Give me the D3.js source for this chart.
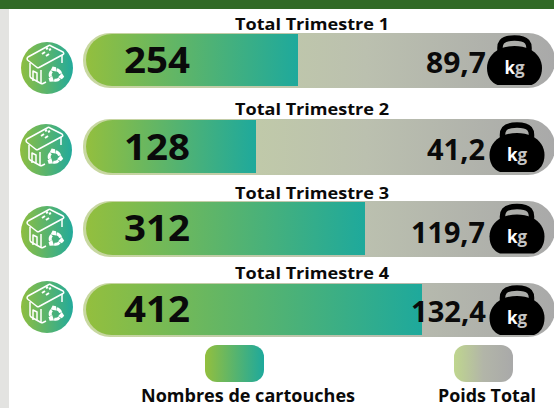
<!DOCTYPE html>
<meta charset="utf-8">
<style>
html, body { margin: 0; padding: 0; background: #fff; overflow: hidden; }
text { font-family: "Open Sans", sans-serif; font-weight: 700; fill: #0a0a0a; }
</style>
<body>
<script src="https://d3js.org/d3.v7.js"></script>
<script>

var width = 554;
var height = 408;

var trimestres = ["Total Trimestre 1", "Total Trimestre 2", "Total Trimestre 3", "Total Trimestre 4"];
var cartouches = [254, 128, 312, 412];
var poids = ["89,7", "41,2", "119,7", "132,4"];
var legendLabels = ["Nombres de cartouches", "Poids Total"];

// the picture's bars are not proportional, so the scale goes through each bar's end
var xScale = d3.scaleLinear()
    .domain([128, 254, 312, 412])
    .range([256, 298, 365, 422]);

// row layout
var rowTop = [33, 119, 201, 283];
var rowH = [55, 56, 56, 54];
var titleY = [-3, -4, -2, -4];
var numY = [40, 40.5, 39.5, 39];
var poidsX = [486, 485, 485, 486];
var poidsY = [40, 41, 42, 39];
var poidsW = [60, 58, 74, 75];
var iconX = [47, 46, 47, 47];
var iconY = [35, 31, 31, 24];
var weightX = [514.5, 517, 517, 517];
var weightY = [27, 28, 27.5, 27];
var trackX = 83;

var svg = d3.select("body").append("svg")
    .attr("width", width)
    .attr("height", height)
    .style("display", "block");

var defs = svg.append("defs");

function gradient(id, stops) {
  var g = defs.append("linearGradient").attr("id", id);
  stops.forEach(function(s) {
    g.append("stop").attr("offset", s[0]).attr("stop-color", s[1]);
  });
}
gradient("fillGrad", [["0%", "#93bf3e"], ["100%", "#1ea99c"]]);
gradient("trackGrad", [["0%", "#c8d8a0"], ["60%", "#bbc0af"], ["100%", "#a9a9a9"]]);
gradient("legendGrad", [["0%", "#bfd68e"], ["50%", "#b2b5a8"], ["100%", "#a9a9a9"]]);
gradient("iconGrad", [["0%", "#8fbe40"], ["100%", "#22aa9b"]]);

// page furniture
svg.append("rect").attr("width", width).attr("height", 9).attr("fill", "#316a26");
svg.append("rect").attr("y", 9).attr("width", 9).attr("height", height).attr("fill", "#e3e3e1");

// cartridge icon
var icon = defs.append("g").attr("id", "icon");
icon.append("circle").attr("r", 26).attr("fill", "url(#iconGrad)");
var lines = icon.append("g")
    .attr("fill", "none")
    .attr("stroke", "#fff")
    .attr("stroke-width", 1.5)
    .attr("stroke-linejoin", "round");
lines.append("path").attr("d", "M-19,-11 L2,-22.5 Q3,-23 4,-22 L16,-16 Q17.5,-14.5 16,-13.5 L-8,-0.5 Q-9,0 -10,-0.5 L-19.5,-8 Q-20.5,-10 -19,-11Z");
lines.append("path").attr("d", "M-17,-5 L-17,8 Q-17,9 -16,10 L-6,15.5 Q-5,16 -4,15.5 L-1,14");
lines.append("path").attr("d", "M-6,2 L-6,15");
lines.append("path").attr("d", "M-14,13 L-14,3 L-10,5 L-10,13");
lines.append("path").attr("d", "M15,-13 L15,-5");
lines.append("path").attr("d", "M-5,-14 L-2,-16 M-1,-12 L2,-14 M2,-18 L4,-19 M-1,-19 L1,-20").attr("stroke-width", 2);

// recycling arrows
var rec = icon.append("g").attr("transform", "translate(8.5,7) scale(0.85)").attr("fill", "#fff");
d3.range(3).forEach(function(i) {
  var arrow = rec.append("g").attr("transform", "rotate(" + (i * 120) + ")");
  arrow.append("path")
      .attr("d", d3.arc()({innerRadius: 4.5, outerRadius: 8, startAngle: 0.2, endAngle: 1.3}));
  arrow.append("path").attr("d", "M5.5,-5.5 L10,-3 L9,1 L4,1Z").attr("transform", "rotate(28)");
});

// kettlebell weight icon, origin at the top of the handle's centre
var weight = defs.append("g").attr("id", "weight");
weight.append("path")
    .attr("fill", "none")
    .attr("stroke", "#000")
    .attr("stroke-width", 5.5)
    .attr("d", "M-14,18 C-16,8 -13,3 0,3 C13,3 16,8 14,18");
weight.append("path")
    .attr("fill", "#000")
    .attr("d", "M-15,14 C-6,10 6,10 15,14 C23,18 27.5,25 27.5,33 C27.5,42 23,48 17,50 L-17,50 C-23,48 -27.5,42 -27.5,33 C-27.5,25 -23,18 -15,14Z");

var rows = svg.selectAll("g.row")
    .data(trimestres)
    .enter()
    .append("g")
    .attr("class", "row")
    .attr("transform", (d, i) => `translate(0, ${rowTop[i]})`);

rows.append("rect")
    .attr("x", trackX)
    .attr("width", width - trackX + 1)
    .attr("height", (d, i) => rowH[i])
    .attr("rx", 27)
    .attr("fill", "url(#trackGrad)");

rows.append("path")
    .attr("fill", "url(#fillGrad)")
    .attr("d", function(d, i) {
      var x0 = trackX + 3, x1 = xScale(cartouches[i]), r = (rowH[i] - 3) / 2;
      var p = d3.path();
      p.moveTo(x1, 1);
      p.lineTo(x0 + r, 1);
      p.arc(x0 + r, 1 + r, r, -Math.PI / 2, Math.PI / 2, true);
      p.lineTo(x1, 1 + 2 * r);
      p.closePath();
      return p.toString();
    });

rows.append("text")
    .attr("x", 312)
    .attr("y", (d, i) => titleY[i])
    .attr("text-anchor", "middle")
    .attr("textLength", 154)
    .attr("lengthAdjust", "spacingAndGlyphs")
    .style("font-size", "16.5px")
    .text(d => d);

rows.append("text")
    .attr("x", 124)
    .attr("y", (d, i) => numY[i])
    .attr("textLength", 66)
    .attr("lengthAdjust", "spacingAndGlyphs")
    .style("font-size", "36px")
    .text((d, i) => cartouches[i]);

rows.append("use")
    .attr("href", "#icon")
    .attr("x", (d, i) => iconX[i])
    .attr("y", (d, i) => iconY[i]);

rows.append("text")
    .attr("x", (d, i) => poidsX[i])
    .attr("y", (d, i) => poidsY[i])
    .attr("text-anchor", "end")
    .attr("textLength", (d, i) => poidsW[i])
    .attr("lengthAdjust", "spacingAndGlyphs")
    .style("font-size", "28px")
    .text((d, i) => poids[i]);

rows.append("use")
    .attr("href", "#weight")
    .attr("x", (d, i) => weightX[i])
    .attr("y", (d, i) => weightY[i] - 25);

var kg = rows.append("text")
    .attr("x", (d, i) => weightX[i])
    .attr("y", (d, i) => weightY[i] + 14)
    .attr("text-anchor", "middle")
    .style("font-size", "17px");
kg.append("tspan").style("fill", "#fff").text("k");
kg.append("tspan").style("fill", "#c4c4c4").text("g");

// legend
var legendX = [205, 454];
var legendTextX = [248, 487];
var legendTextW = [214, 98];
var legendFill = ["url(#fillGrad)", "url(#legendGrad)"];

svg.selectAll("rect.legend")
    .data(legendLabels)
    .enter()
    .append("rect")
    .attr("class", "legend")
    .attr("x", (d, i) => legendX[i])
    .attr("y", 345)
    .attr("width", 59)
    .attr("height", 37)
    .attr("rx", 12)
    .attr("fill", (d, i) => legendFill[i]);

svg.selectAll("text.legend")
    .data(legendLabels)
    .enter()
    .append("text")
    .attr("class", "legend")
    .attr("x", (d, i) => legendTextX[i])
    .attr("y", 402)
    .attr("text-anchor", "middle")
    .attr("textLength", (d, i) => legendTextW[i])
    .attr("lengthAdjust", "spacingAndGlyphs")
    .style("font-size", "17px")
    .text(d => d);

</script>
